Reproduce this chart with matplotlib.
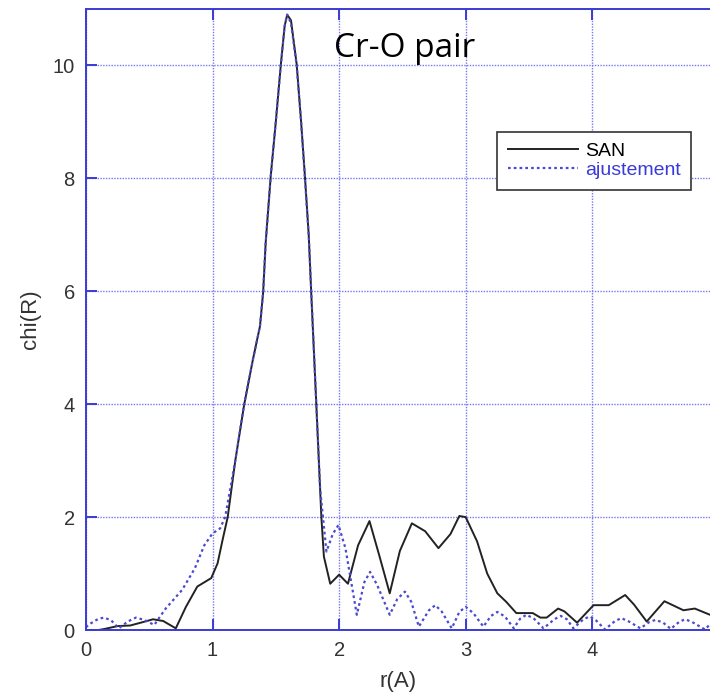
import matplotlib.pyplot as plt

san_r = [0.10, 0.15, 0.25, 0.35, 0.45, 0.53, 0.61, 0.71, 0.79, 0.88, 0.99, 1.04, 1.08,
         1.12, 1.18, 1.25, 1.32, 1.375, 1.40, 1.42, 1.46, 1.50, 1.54, 1.57, 1.59, 1.62,
         1.665, 1.70, 1.73, 1.76, 1.78, 1.82, 1.86, 1.88, 1.93, 2.00, 2.07, 2.15, 2.24,
         2.32, 2.40, 2.48, 2.575, 2.68, 2.785, 2.88, 2.95, 3.00, 3.09, 3.17, 3.25, 3.32,
         3.40, 3.53, 3.59, 3.64, 3.73, 3.78, 3.88, 4.01, 4.13, 4.26, 4.33, 4.43, 4.57,
         4.72, 4.81, 4.93]
san_chi = [0.00, 0.02, 0.07, 0.08, 0.14, 0.19, 0.16, 0.03, 0.41, 0.77, 0.92, 1.18, 1.60,
           2.00, 3.00, 3.99, 4.80, 5.38, 5.98, 6.86, 8.04, 9.00, 10.02, 10.70, 10.90, 10.80,
           10.02, 9.00, 8.04, 7.00, 5.97, 4.00, 2.00, 1.30, 0.82, 0.98, 0.82, 1.50, 1.93,
           1.30, 0.65, 1.40, 1.89, 1.75, 1.45, 1.70, 2.02, 2.00, 1.57, 1.00, 0.65, 0.50,
           0.30, 0.30, 0.22, 0.22, 0.38, 0.33, 0.13, 0.44, 0.44, 0.62, 0.45, 0.15, 0.51,
           0.35, 0.38, 0.27]

# fit (ajustement)
fit_r = [0.00, 0.04, 0.10, 0.145, 0.20, 0.26, 0.33, 0.395, 0.46, 0.54, 0.63, 0.76, 0.86,
         0.935, 1.00, 1.06, 1.10, 1.18, 1.25, 1.32, 1.375, 1.40, 1.42, 1.46, 1.50, 1.54,
         1.57, 1.59, 1.62, 1.665, 1.70, 1.73, 1.76, 1.78, 1.82, 1.85, 1.90, 1.95, 1.995,
         2.05, 2.14, 2.20, 2.245, 2.30, 2.40, 2.46, 2.52, 2.57, 2.63, 2.71, 2.76, 2.81,
         2.89, 2.95, 3.00, 3.06, 3.14, 3.20, 3.25, 3.31, 3.38, 3.43, 3.48, 3.54, 3.615,
         3.70, 3.75, 3.80, 3.85, 3.93, 3.98, 4.03, 4.10, 4.18, 4.23, 4.29, 4.38, 4.45,
         4.50, 4.56, 4.62, 4.69, 4.735, 4.79, 4.89, 4.93]
fit_chi = [0.05, 0.12, 0.20, 0.22, 0.17, 0.03, 0.15, 0.22, 0.18, 0.09, 0.38, 0.71, 1.09,
           1.50, 1.71, 1.80, 2.00, 3.00, 4.00, 4.80, 5.38, 5.98, 6.86, 8.04, 9.00, 10.02,
           10.70, 10.90, 10.75, 10.00, 9.00, 8.00, 7.00, 6.00, 4.00, 2.50, 1.39, 1.70, 1.86,
           1.45, 0.27, 0.85, 1.03, 0.80, 0.27, 0.55, 0.68, 0.50, 0.06, 0.35, 0.44, 0.33,
           0.03, 0.32, 0.41, 0.30, 0.06, 0.25, 0.32, 0.24, 0.03, 0.20, 0.27, 0.20, 0.03,
           0.19, 0.25, 0.19, 0.03, 0.19, 0.24, 0.17, 0.01, 0.16, 0.21, 0.15, 0.03, 0.14,
           0.18, 0.13, 0.02, 0.15, 0.19, 0.14, 0.01, 0.10]

blue = '#3b3bd4'
gridblue = '#7878ea'

plt.rcParams['font.family'] = ['Liberation Sans', 'DejaVu Sans']

fig = plt.figure(figsize=(7.10, 6.95), dpi=100)
ax = fig.add_axes([0.121, 0.0935, 0.879, 0.8935])

ax.plot(san_r, san_chi, color='#222222', linewidth=1.4, label='SAN')
ax.plot(fit_r, fit_chi, color='#4a4ad0', linewidth=1.6, linestyle=(0, (1.2, 1.4)),
        label='ajustement')

ax.set_xlim(0, 4.93)
ax.set_ylim(0, 11)
ax.set_xticks([0, 1, 2, 3, 4])
ax.set_yticks([0, 2, 4, 6, 8, 10])
ax.grid(True, color=gridblue, linestyle=(0, (1, 1)), linewidth=1.0)

for side in ['left', 'bottom', 'top']:
    ax.spines[side].set_color(blue)
    ax.spines[side].set_linewidth(1.4)
ax.spines['right'].set_visible(False)
ax.tick_params(direction='in', length=8, width=1.4, color=blue, top=True,
               labelsize=14.5, labelcolor='#333333', pad=8)

ax.set_xlabel('r(A)', fontsize=16, color='#333333', labelpad=8)
ax.set_ylabel('chi(R)', fontsize=16, color='#333333', labelpad=8)

ax.text(2.52, 10.3, 'Cr-O pair', fontsize=24, family='Open Sans', ha='center',
        va='center', color='black')

leg = ax.legend(loc='upper left', bbox_to_anchor=(0.659, 0.802), fancybox=False,
                framealpha=1, edgecolor='#333333', fontsize=14, handlelength=3.6,
                borderpad=0.55, labelspacing=0.05, handletextpad=0.35, borderaxespad=0)
leg.get_frame().set_linewidth(1.2)
leg.get_texts()[1].set_color('#3a3ad8')

fig.savefig('out.png', dpi=100)
